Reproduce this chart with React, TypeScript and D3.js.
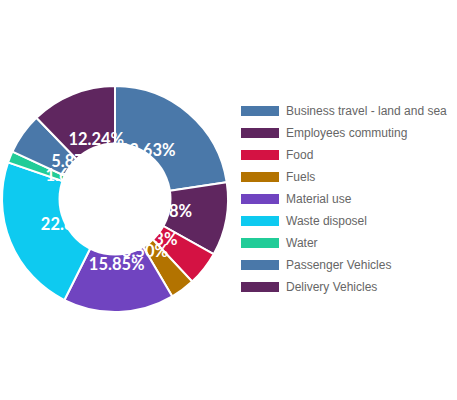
import * as d3 from "d3";

// categories + values (percent shares)
const categories = [
  "Business travel - land and sea",
  "Employees commuting",
  "Food",
  "Fuels",
  "Material use",
  "Waste disposel",
  "Water",
  "Passenger Vehicles",
  "Delivery Vehicles",
];
const values = [22.63, 10.48, 4.93, 3.5, 15.85, 22.86, 1.64, 5.87, 12.24];
const colors = [
  "#4a78a9",
  "#5f265f",
  "#d41243",
  "#b37300",
  "#7044c0",
  "#0ecaf0",
  "#21cc98",
  "#4a78a9",
  "#5f265f",
];

interface Slice {
  label: string;
  value: number;
  color: string;
}

const data: Slice[] = categories.map((c, i) => ({ label: c, value: values[i], color: colors[i] }));

const W = 457;
const H = 400;
const cx = 115;
const cy = 199;
const outerR = 113;
const holeR = 56.5;
// labels sit on a slightly tall ellipse (narrower horizontally)
const labelRx = 50;
const labelRy = 65;

export default function App() {
  const total = d3.sum(data, (d) => d.value);

  const pie = d3
    .pie<Slice>()
    .value((d) => d.value)
    .sort(null);

  const arc = d3.arc<d3.PieArcDatum<Slice>>().innerRadius(0).outerRadius(outerR);
  const unitArc = d3.arc<d3.PieArcDatum<Slice>>().innerRadius(1).outerRadius(1);

  const arcs = pie(data);

  // legend rows
  const legendY = d3
    .scalePoint<string>()
    .domain(categories)
    .range([111, 287]);

  return (
    <svg
      width={W}
      height={H}
      style={{ position: "fixed", left: 0, top: 0, background: "#fff" }}
    >
      <g transform={`translate(${cx},${cy})`}>
        {arcs.map((a, i) => (
          <path key={i} d={arc(a) || ""} fill={a.data.color} stroke="#fff" strokeWidth={2} />
        ))}
        {arcs.map((a, i) => {
          const [ux, uy] = unitArc.centroid(a);
          return (
            <text
              key={"l" + i}
              x={ux * labelRx}
              y={uy * labelRy}
              textAnchor="middle"
              dominantBaseline="central"
              fontFamily="Lato, 'Liberation Sans', sans-serif"
              fontWeight={700}
              fontSize={16.5}
              fill="#fff"
            >
              {((a.data.value / total) * 100).toFixed(2)}%
            </text>
          );
        })}
        <circle r={holeR} fill="#fff" />
      </g>

      <g fontFamily="'Liberation Sans', Arial, sans-serif" fontSize={12}>
        {data.map((d) => {
          const y = legendY(d.label) ?? 0;
          return (
            <g key={d.label} transform={`translate(241,${y})`}>
              <rect x={0} y={-5} width={38} height={10} fill={d.color} />
              <text x={45} y={0} dominantBaseline="central" fill="#666">
                {d.label}
              </text>
            </g>
          );
        })}
      </g>
    </svg>
  );
}
